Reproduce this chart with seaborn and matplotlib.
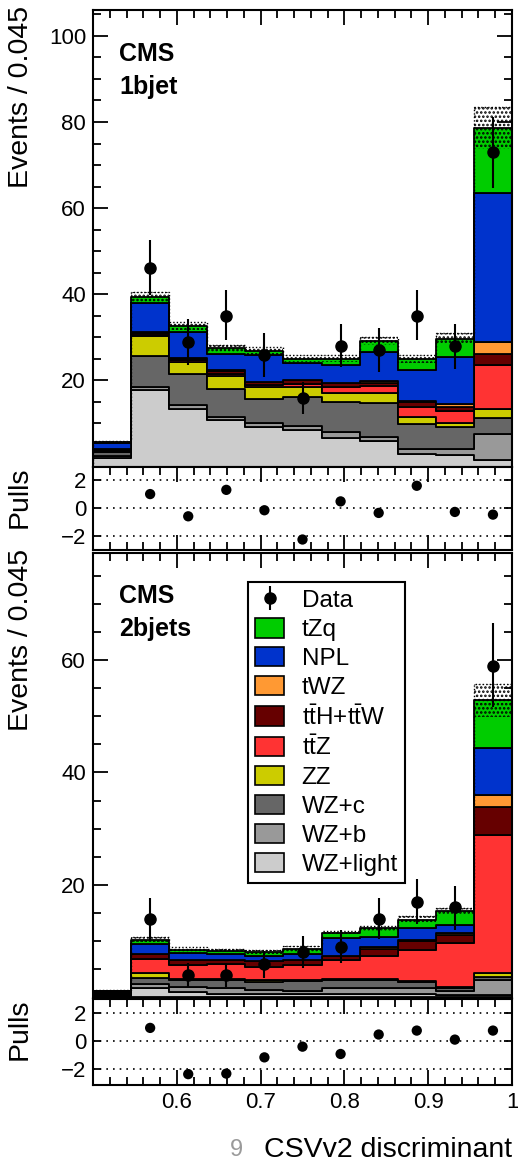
import numpy as np
import pandas as pd
import matplotlib
matplotlib.use("Agg")
import matplotlib.pyplot as plt
import seaborn as sns
from matplotlib.patches import Patch
from matplotlib.ticker import MultipleLocator, FixedLocator

sns.set_style("ticks")
plt.rcParams["font.family"] = ["Liberation Sans", "DejaVu Sans"]
plt.rcParams["mathtext.fontset"] = "custom"
plt.rcParams["mathtext.rm"] = "Liberation Sans"
plt.rcParams["mathtext.it"] = "Liberation Sans:italic"
plt.rcParams["mathtext.bf"] = "Liberation Sans:bold"
for k in ("text.color", "axes.labelcolor", "xtick.color", "ytick.color", "axes.edgecolor"):
    plt.rcParams[k] = "black"
plt.rcParams["hatch.linewidth"] = 1.2

# ---------------- data ----------------
bin_edges = np.linspace(0.5, 1.0, 12)
bin_centers = 0.5 * (bin_edges[:-1] + bin_edges[1:])

processes = ["WZ+light", "WZ+b", "WZ+c", "ZZ", "ttZ", "ttH+ttW", "tWZ", "NPL", "tZq"]
proc_labels = {
    "WZ+light": "WZ+light", "WZ+b": "WZ+b", "WZ+c": "WZ+c", "ZZ": "ZZ",
    "ttZ": r"$\mathregular{t\bar{t}Z}$", "ttH+ttW": r"$\mathregular{t\bar{t}H{+}t\bar{t}W}$",
    "tWZ": "tWZ", "NPL": "NPL", "tZq": "tZq",
}
proc_colors = {
    "WZ+light": "#cccccc", "WZ+b": "#999999", "WZ+c": "#666666", "ZZ": "#cccc00",
    "ttZ": "#ff3333", "ttH+ttW": "#660000", "tWZ": "#ff9933", "NPL": "#0033cc", "tZq": "#00cc00",
}

# 1 b jet
b1_wzlight = [1.9, 17.8, 13.4, 10.9, 9.1, 8.5, 6.7, 6.0, 2.8, 2.6, 1.5]
b1_wzb     = [0.6, 0.6, 0.8, 0.6, 1.0, 1.0, 1.3, 0.8, 1.3, 1.5, 6.1]
b1_wzc     = [0.9, 7.2, 7.2, 6.6, 5.6, 6.6, 7.0, 8.0, 5.8, 5.0, 3.6]
b1_zz      = [0.3, 4.6, 2.9, 2.8, 2.7, 2.3, 2.1, 2.3, 1.6, 1.0, 2.2]
b1_ttz     = [0.1, 0.4, 0.4, 0.6, 0.6, 0.8, 1.3, 1.7, 2.3, 2.9, 10.1]
b1_tth     = [0.2, 0.4, 0.3, 0.7, 0.6, 0.8, 1.0, 0.6, 1.2, 0.8, 2.7]
b1_twz     = [0.0, 0.3, 0.1, 0.1, 0.1, 0.1, 0.1, 0.4, 0.1, 0.8, 2.7]
b1_npl     = [1.4, 6.7, 6.1, 3.9, 6.3, 3.9, 4.1, 6.8, 7.2, 10.8, 34.6]
b1_tzq     = [0.2, 1.3, 1.4, 1.2, 0.8, 1.0, 1.4, 2.5, 2.7, 4.3, 15.1]
b1_unc     = [0.3, 1.2, 1.0, 0.7, 1.0, 0.8, 0.8, 1.0, 1.0, 1.2, 4.9]
b1_data    = [np.nan, 46, 29, 35, 26, 16, 28, 27, 35, 28, 73]
b1_err_lo  = [0, 6.2, 5.5, 5.7, 5.2, 3.9, 4.9, 5.1, 5.7, 5.3, 8.4]
b1_err_hi  = [0, 6.7, 5.3, 5.9, 5.0, 3.6, 5.2, 5.2, 5.9, 5.2, 8.2]
b1_pulls   = [np.nan, 0.99, -0.59, 1.29, -0.16, -2.24, 0.47, -0.35, 1.58, -0.28, -0.47]

# 2 b jets
b2_wzlight = [0.3, 1.6, 1.0, 0.7, 0.6, 0.6, 0.7, 0.7, 0.7, 0.4, 0.5]
b2_wzb     = [0.2, 0.8, 0.9, 0.9, 0.7, 0.6, 0.9, 0.9, 0.9, 0.8, 2.6]
b2_wzc     = [0.2, 1.1, 1.2, 1.5, 1.5, 1.7, 1.5, 1.5, 1.2, 0.4, 0.6]
b2_zz      = [0.05, 0.9, 0.2, 0.2, 0.3, 0.2, 0.2, 0.2, 0.2, 0.2, 0.6]
b2_ttz     = [0.2, 2.4, 2.5, 2.6, 2.3, 2.7, 3.4, 4.1, 5.4, 7.8, 24.6]
b2_tth     = [0.1, 0.9, 0.9, 0.8, 1.0, 0.8, 0.7, 1.3, 1.6, 1.5, 5.0]
b2_twz     = [0.0, 0.1, 0.05, 0.05, 0.05, 0.05, 0.05, 0.3, 0.3, 0.3, 2.1]
b2_npl     = [0.1, 1.7, 1.15, 0.95, 0.95, 1.05, 3.05, 1.8, 2.0, 1.5, 8.4]
b2_tzq     = [0.05, 0.8, 0.6, 0.6, 0.7, 0.9, 1.0, 1.5, 1.5, 2.4, 8.4]
b2_unc     = [0.1, 0.5, 0.4, 0.4, 0.4, 0.6, 0.3, 0.4, 0.6, 0.6, 2.9]
b2_data    = [np.nan, 14, 4, 4, 6, 8, 9, 14, 17, 16, 59]
b2_err_lo  = [0, 3.7, 2.1, 2.1, 2.5, 2.8, 2.9, 3.6, 4.0, 4.0, 7.3]
b2_err_hi  = [0, 3.6, 2.1, 2.1, 2.3, 2.9, 3.0, 3.7, 4.0, 3.8, 7.5]
b2_pulls   = [np.nan, 0.95, -2.33, -2.29, -1.14, -0.38, -0.90, 0.48, 0.76, 0.12, 0.76]

b1_stack = dict(zip(processes, [b1_wzlight, b1_wzb, b1_wzc, b1_zz, b1_ttz, b1_tth, b1_twz, b1_npl, b1_tzq]))
b2_stack = dict(zip(processes, [b2_wzlight, b2_wzb, b2_wzc, b2_zz, b2_ttz, b2_tth, b2_twz, b2_npl, b2_tzq]))

# ---------------- figure ----------------
W, H = 518, 1163
fig = plt.figure(figsize=(W / 100, H / 100), dpi=100)

def px_axes(x0, y0, x1, y1):
    return fig.add_axes([x0 / W, 1 - y1 / H, (x1 - x0) / W, (y1 - y0) / H])

ax1 = px_axes(93, 10, 512, 466.5)
ax1p = px_axes(93, 466.5, 512, 549.5)
ax2 = px_axes(93, 553, 512, 997.5)
ax2p = px_axes(93, 999, 512, 1085)

FS_TICK = 16
FS_LAB = 20.5
LW = 1.5


def style_axes(ax):
    for s in ax.spines.values():
        s.set_linewidth(LW)
        s.set_visible(True)
        s.set_color("black")
    ax.tick_params(which="both", direction="in", top=True, right=True,
                   width=1.3, labelsize=FS_TICK, pad=5, color="black")
    ax.tick_params(which="major", length=11)
    ax.tick_params(which="minor", length=6)
    ax.set_xlim(0.5, 1.0)
    ax.xaxis.set_major_locator(FixedLocator([0.6, 0.7, 0.8, 0.9, 1.0]))
    ax.xaxis.set_minor_locator(MultipleLocator(0.02))


def draw_main(ax, stack, unc, data, elo, ehi, ymax, yticks, tag):
    rows = []
    for p in processes:
        for c, v in zip(bin_centers, stack[p]):
            rows.append({"x": float(c), "w": float(v), "proc": p})
    df = pd.DataFrame(rows)
    # seaborn stacks the first hue level on top -> give the top-most process first
    sns.histplot(data=df, x="x", weights="w", hue="proc", hue_order=processes[::-1],
                 multiple="stack", bins=list(bin_edges), element="step", fill=True,
                 palette=proc_colors, edgecolor="black", linewidth=1.3, alpha=1,
                 legend=False, ax=ax)
    total = np.sum([stack[p] for p in processes], axis=0)
    unc = np.asarray(unc)
    ax.bar(bin_centers, 2 * unc, bottom=total - unc, width=np.diff(bin_edges),
           fill=False, hatch="....", edgecolor="black", linewidth=0, zorder=3)
    ax.stairs(total + unc, bin_edges, color="black", linestyle=(0, (1, 1.5)),
              linewidth=1.0, zorder=3)
    eb = ax.errorbar(bin_centers, data, yerr=[elo, ehi], fmt="o", color="black",
                     ms=8, lw=1.5, capsize=0, zorder=5)
    style_axes(ax)
    ax.set_ylim(0, ymax)
    ax.yaxis.set_major_locator(FixedLocator(yticks))
    ax.yaxis.set_minor_locator(MultipleLocator(5))
    ax.tick_params(axis="x", labelbottom=False)
    ax.set_xlabel("")
    ax.set_ylabel("Events / 0.045", fontsize=FS_LAB, loc="top")
    hpx = ax.get_position().height * H
    ax.text(0.063, 0.93, "CMS", transform=ax.transAxes, fontsize=18,
            fontweight="bold", ha="left", va="top")
    ax.text(0.063, 0.93 - 33 / hpx, tag, transform=ax.transAxes,
            fontsize=18, fontweight="bold", ha="left", va="top")
    return eb


def draw_pulls(ax, pulls, ylim):
    sns.scatterplot(x=bin_centers, y=pulls, color="black", s=55, edgecolor="none",
                    ax=ax, zorder=4)
    for v in (-2, 0, 2):
        ax.axhline(v, color="black", linestyle=(0, (1, 3)), linewidth=1.2, zorder=1)
    style_axes(ax)
    ax.set_ylim(*ylim)
    ax.yaxis.set_major_locator(FixedLocator([-2, 0, 2]))
    ax.yaxis.set_minor_locator(FixedLocator([]))
    ax.tick_params(axis="y", which="major", length=6)
    ax.set_ylabel("Pulls", fontsize=FS_LAB, loc="top")


eb1 = draw_main(ax1, b1_stack, b1_unc, b1_data, b1_err_lo, b1_err_hi, 106,
                [20, 40, 60, 80, 100], "1bjet")
draw_pulls(ax1p, b1_pulls, (-2.95, 2.95))
ax1p.tick_params(axis="x", labelbottom=False)

eb2 = draw_main(ax2, b2_stack, b2_unc, b2_data, b2_err_lo, b2_err_hi, 79,
                [20, 40, 60], "2bjets")
draw_pulls(ax2p, b2_pulls, (-3.1, 3.0))
ax2p.set_xticklabels(["0.6", "0.7", "0.8", "0.9", "1"])
ax2p.set_xlabel("CSVv2 discriminant", fontsize=FS_LAB, loc="right", labelpad=17)

for ax in (ax1, ax2):
    ax.yaxis.set_label_coords(-0.14, 1.01)
for ax in (ax1p, ax2p):
    ax.yaxis.set_label_coords(-0.143, 1.0)

# legend
handles = [eb2] + [Patch(facecolor=proc_colors[p], edgecolor="black", linewidth=1.2)
                   for p in reversed(processes)]
labels = ["Data"] + [proc_labels[p] for p in reversed(processes)]
leg = ax2.legend(handles, labels, loc="upper left", bbox_to_anchor=(0.37, 0.935),
                 fontsize=17.5, frameon=True, fancybox=False, framealpha=1,
                 edgecolor="black", handlelength=1.2, handleheight=0.85,
                 handletextpad=0.7, labelspacing=0.24, borderpad=0.3,
                 borderaxespad=0)
leg.get_frame().set_linewidth(1.5)

fig.text(236 / W, 1 - 1156 / H, "9", color="#9a9a9a", fontsize=17, ha="center", va="baseline")

fig.savefig("out.png", dpi=100)
